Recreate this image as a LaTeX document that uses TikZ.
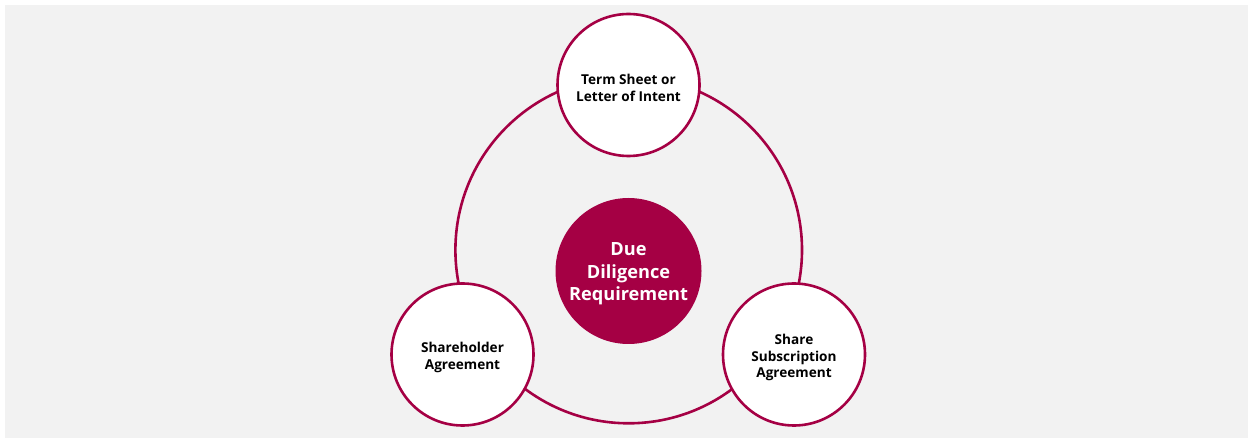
\documentclass[tikz,border=0pt]{standalone}
\usepackage{fontspec}
\setmainfont{Open Sans}
\definecolor{crim}{HTML}{A50044}
\definecolor{bggray}{HTML}{F2F2F2}
\begin{document}
\begin{tikzpicture}[x=1pt,y=-1pt,
  sat/.style={circle,draw=crim,line width=2.6pt,fill=white,minimum size=142pt,inner sep=0pt},
  sattext/.style={align=center,font=\bfseries\fontsize{13.6}{16.2}\selectfont,text=black},
  core/.style={circle,fill=crim,minimum size=146pt,inner sep=0pt},
  coretext/.style={align=center,font=\bfseries\fontsize{18.2}{22.5}\selectfont,text=white},
  ring/.style={draw=crim,line width=2.6pt}]
\useasboundingbox (0,0) rectangle (1253,443);
\fill[white] (0,0) rectangle (1253,443);
\fill[bggray] (5,5) rectangle (1248,438);
\node[circle,minimum size=346.6pt,inner sep=0pt,ring] (ringc) at (628.7,250) {};
\node[sat] (top) at (628.5,85) {};
\node[sat] (left) at (462.5,354.5) {};
\node[sat] (right) at (794,354.5) {};
\node[core] (mid) at (628.5,271) {};
\node[sattext] (topt) at ([yshift=-3pt]top.center) {Term Sheet or\\Letter of Intent};
\node[sattext] (leftt) at ([yshift=-3pt]left.center) {Shareholder\\Agreement};
\node[sattext] (rightt) at ([yshift=-3pt]right.center) {Share\\Subscription\\Agreement};
\node[coretext] (midt) at ([yshift=-3pt]mid.center) {Due\\Diligence\\Requirement};
\end{tikzpicture}
\end{document}
